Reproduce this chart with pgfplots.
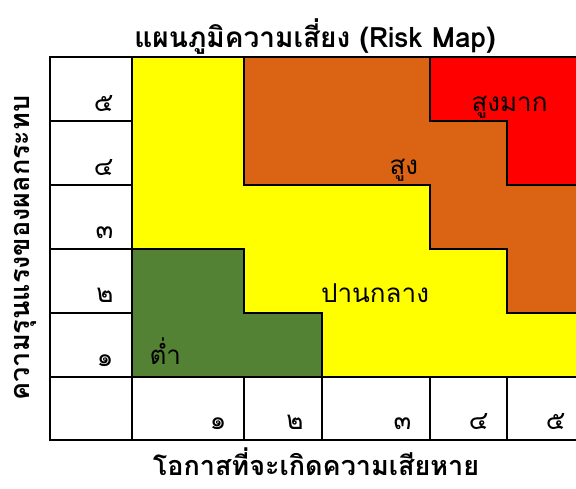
\documentclass[border=0pt]{standalone}
\usepackage{fontspec}
\usepackage{pgfplots}
\pgfplotsset{compat=1.18}
\newfontfamily\thai[Script=Thai]{Loma}
\definecolor{rYellow}{HTML}{FFFF00}
\definecolor{rOrange}{HTML}{DA6414}
\definecolor{rRed}{HTML}{FF0000}
\definecolor{rGreen}{HTML}{548235}
\begin{document}
\begin{tikzpicture}
\begin{axis}[
  scale only axis, width=576pt, height=488pt,
  xmin=0, xmax=576, ymin=0, ymax=488, y dir=reverse,
  hide axis, clip mode=individual,
]
% first column cells (white)
\addplot[fill=white, draw=black, line width=2pt] coordinates {(50,57) (132,57) (132,121) (50,121)} -- cycle;
\addplot[fill=white, draw=black, line width=2pt] coordinates {(50,121) (132,121) (132,185) (50,185)} -- cycle;
\addplot[fill=white, draw=black, line width=2pt] coordinates {(50,185) (132,185) (132,249) (50,249)} -- cycle;
\addplot[fill=white, draw=black, line width=2pt] coordinates {(50,249) (132,249) (132,313) (50,313)} -- cycle;
\addplot[fill=white, draw=black, line width=2pt] coordinates {(50,313) (132,313) (132,377) (50,377)} -- cycle;
\addplot[fill=white, draw=black, line width=2pt] coordinates {(50,377) (132,377) (132,440) (50,440)} -- cycle;
% bottom row cells
\addplot[fill=white, draw=black, line width=2pt] coordinates {(132,377) (244,377) (244,440) (132,440)} -- cycle;
\addplot[fill=white, draw=black, line width=2pt] coordinates {(244,377) (322,377) (322,440) (244,440)} -- cycle;
\addplot[fill=white, draw=black, line width=2pt] coordinates {(322,377) (430,377) (430,440) (322,440)} -- cycle;
\addplot[fill=white, draw=black, line width=2pt] coordinates {(430,377) (507,377) (507,440) (430,440)} -- cycle;
\addplot[fill=white, draw=black, line width=2pt] coordinates {(507,377) (600,377) (600,440) (507,440)} -- cycle;
% risk zones
\addplot[fill=rYellow, draw=black, line width=2pt] coordinates {(132,57) (244,57) (244,185) (430,185) (430,249) (507,249) (507,313) (600,313) (600,377) (322,377) (322,313) (244,313) (244,249) (132,249)} -- cycle;
\addplot[fill=rGreen, draw=black, line width=2pt] coordinates {(132,249) (244,249) (244,313) (322,313) (322,377) (132,377)} -- cycle;
\addplot[fill=rOrange, draw=black, line width=2pt] coordinates {(244,57) (430,57) (430,121) (507,121) (507,185) (600,185) (600,313) (507,313) (507,249) (430,249) (430,185) (244,185)} -- cycle;
\addplot[fill=rRed, draw=black, line width=2pt] coordinates {(430,57) (600,57) (600,185) (507,185) (507,121) (430,121)} -- cycle;
% row labels
\node[anchor=base east, font=\thai\fontsize{26}{30}\selectfont] at (axis cs:117,111) {๕};
\node[anchor=base east, font=\thai\fontsize{26}{30}\selectfont] at (axis cs:117,175) {๔};
\node[anchor=base east, font=\thai\fontsize{26}{30}\selectfont] at (axis cs:117,238) {๓};
\node[anchor=base east, font=\thai\fontsize{26}{30}\selectfont] at (axis cs:117,302) {๒};
\node[anchor=base east, font=\thai\fontsize{26}{30}\selectfont] at (axis cs:117,366) {๑};
% column labels
\node[anchor=base east, font=\thai\fontsize{26}{30}\selectfont] at (axis cs:230,429) {๑};
\node[anchor=base east, font=\thai\fontsize{26}{30}\selectfont] at (axis cs:307,429) {๒};
\node[anchor=base east, font=\thai\fontsize{26}{30}\selectfont] at (axis cs:415,429) {๓};
\node[anchor=base east, font=\thai\fontsize{26}{30}\selectfont] at (axis cs:492,429) {๔};
\node[anchor=base east, font=\thai\fontsize{26}{30}\selectfont] at (axis cs:569,429) {๕};
% zone labels
\node[anchor=base west, font=\thai\fontsize{26}{30}\selectfont] at (axis cs:468,111) {สูงมาก};
\node[anchor=base west, font=\thai\fontsize{26}{30}\selectfont] at (axis cs:386,174) {สูง};
\node[anchor=base, font=\thai\fontsize{26}{30}\selectfont] at (axis cs:375,302) {ปานกลาง};
\node[anchor=base west, font=\thai\fontsize{26}{30}\selectfont] at (axis cs:146,364) {ต่ำ};
% titles
\node[anchor=base, font=\thai\bfseries\fontsize{28}{33}\selectfont] at (axis cs:315,47) {แผนภูมิความเสี่ยง (Risk Map)};
\node[anchor=base, font=\thai\bfseries\fontsize{27}{32}\selectfont] at (axis cs:316,475) {โอกาสที่จะเกิดความเสียหาย};
\node[anchor=base, rotate=90, font=\thai\bfseries\fontsize{27}{32}\selectfont] at (axis cs:29,248) {ความรุนแรงของผลกระทบ};
\end{axis}
\pgfresetboundingbox
\path (0,0) rectangle (576pt,488pt);
\end{tikzpicture}
\end{document}
